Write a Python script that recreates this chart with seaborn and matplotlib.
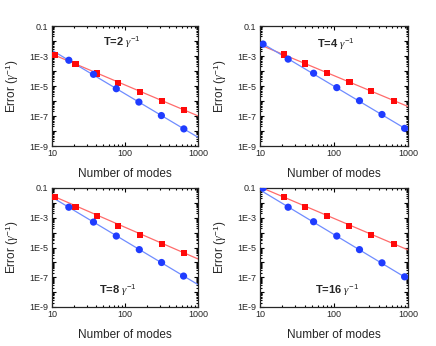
import numpy as np
import pandas as pd
import matplotlib
matplotlib.use("Agg")
import matplotlib.pyplot as plt
import matplotlib.ticker as mticker
import seaborn as sns

# panel titles (T in units of 1/gamma)
titles = ["T=2", "T=4", "T=8", "T=16"]

# red squares
red_x = [
    [11, 21, 41, 81, 161, 321, 641],
    [21, 40, 80, 162, 320, 645],
    [11, 21, 41, 81, 162, 324, 647],
    [21, 40, 81, 160, 320, 640],
]
red_y = [
    [1.15e-3, 2.8e-4, 6.8e-5, 1.66e-5, 4.0e-6, 1.0e-6, 2.6e-7],
    [1.26e-3, 3.16e-4, 7.1e-5, 1.78e-5, 4.4e-6, 1.05e-6],
    [2.5e-2, 5.4e-3, 1.29e-3, 3.0e-4, 6.9e-5, 1.74e-5, 4.3e-6],
    [2.5e-2, 5.4e-3, 1.29e-3, 3.0e-4, 7.2e-5, 1.74e-5],
]

# blue circles
blue_x = [
    [17, 37, 76, 155, 315, 640],
    [11, 24, 53, 109, 221, 445, 900],
    [17, 37, 76, 157, 317, 634],
    [11, 24, 53, 109, 221, 445, 900],
]
blue_y = [
    [5.2e-4, 6.0e-5, 6.6e-6, 8.5e-7, 1.07e-7, 1.38e-8],
    [6.2e-3, 6.2e-4, 7.1e-5, 7.8e-6, 1.05e-6, 1.26e-7, 1.5e-8],
    [5.1e-3, 5.1e-4, 5.9e-5, 7.2e-6, 9.8e-7, 1.2e-7],
    [1.0e-1, 5.1e-3, 5.4e-4, 5.9e-5, 7.2e-6, 9.3e-7, 1.07e-7],
]

# fitted lines, read at the axis ends (x = 10 and x = 1000)
fit_x = [10, 1000]
red_fit_y = [[1.35e-3, 1.02e-7], [5.6e-3, 4.3e-7], [3.1e-2, 1.7e-6], [1.17e-1, 6.9e-6]]
blue_fit_y = [[2.4e-3, 3.8e-9], [8.5e-3, 1.12e-8], [2.4e-2, 3.2e-8], [7.4e-2, 7.6e-8]]

sns.set_style("ticks")
plt.rcParams["font.family"] = ["Liberation Sans", "DejaVu Sans"]
plt.rcParams["mathtext.fontset"] = "custom"
plt.rcParams["mathtext.it"] = "Liberation Serif:italic"
plt.rcParams["mathtext.rm"] = "Liberation Sans"

W, H = 436, 346
fig = plt.figure(figsize=(W / 100, H / 100), dpi=100)

# axes boxes in pixels: left, top, right, bottom
boxes = [(52, 26, 198, 146), (260, 26, 408, 146), (52, 188, 198, 307), (260, 188, 408, 307)]
title_pos = [(0.48, 0.86), (0.51, 0.85), (0.45, 0.14), (0.52, 0.14)]

red_mark, red_line = "#ff0a0a", "#ff6b6b"
blue_mark, blue_line = "#1f3cff", "#6f8cff"


def yfmt(v, pos):
    e = int(round(np.log10(v)))
    if e % 2 == 0:
        return ""
    if e == -1:
        return "0.1"
    return "1E%d" % e


for i, (l, t, r, b) in enumerate(boxes):
    ax = fig.add_axes([l / W, 1 - b / H, (r - l) / W, (b - t) / H])

    sns.lineplot(x=fit_x, y=red_fit_y[i], ax=ax, color=red_line, lw=0.9,
                 estimator=None, sort=False, zorder=2)
    sns.lineplot(x=fit_x, y=blue_fit_y[i], ax=ax, color=blue_line, lw=0.9,
                 estimator=None, sort=False, zorder=2)
    sns.scatterplot(x=red_x[i], y=red_y[i], ax=ax, marker="s", s=19,
                    color=red_mark, edgecolor="none", zorder=3)
    sns.scatterplot(x=blue_x[i], y=blue_y[i], ax=ax, marker="o", s=27,
                    color=blue_mark, edgecolor="none", zorder=4)

    ax.set_xscale("log")
    ax.set_yscale("log")
    ax.set_xlim(10, 1000)
    ax.set_ylim(1e-9, 0.1)

    ax.xaxis.set_major_locator(mticker.LogLocator(base=10, numticks=10))
    ax.xaxis.set_minor_locator(mticker.LogLocator(base=10, subs=np.arange(2, 10), numticks=20))
    ax.xaxis.set_major_formatter(mticker.FuncFormatter(lambda v, p: "%d" % round(v)))
    ax.yaxis.set_major_locator(mticker.LogLocator(base=10, numticks=20))
    ax.yaxis.set_minor_locator(mticker.LogLocator(base=10, subs=np.arange(2, 10), numticks=40))
    ax.yaxis.set_major_formatter(mticker.FuncFormatter(yfmt))

    ax.tick_params(which="both", direction="in", top=True, right=True,
                   labelsize=6.5, pad=2.5, width=0.8, color="black")
    ax.tick_params(which="major", length=3)
    ax.tick_params(which="minor", length=1.6)
    for sp in ax.spines.values():
        sp.set_linewidth(0.9)

    ax.set_xlabel("Number of modes", fontsize=8.5, labelpad=7)
    ax.set_ylabel(r"Error ($\mathit{\gamma}^{-1}$)", fontsize=8.5, labelpad=6)

    tx, ty = title_pos[i]
    ax.text(tx, ty, titles[i] + r" $\mathit{\gamma}^{-1}$", transform=ax.transAxes,
            ha="center", va="center", fontsize=8, fontweight="bold")

fig.savefig("out.png", dpi=100)
